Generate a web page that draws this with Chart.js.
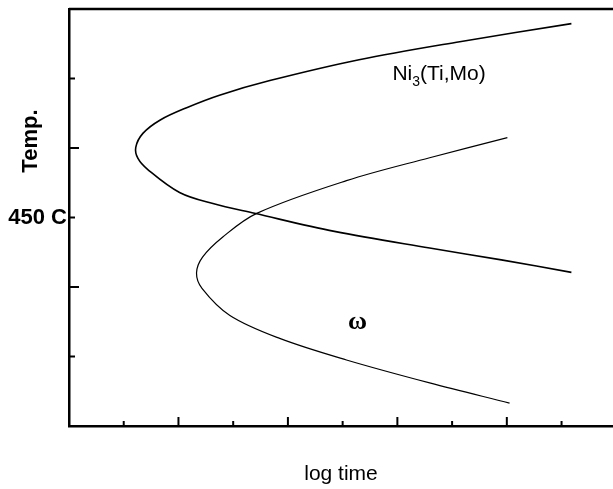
<!DOCTYPE html>
<html>
<head>
<meta charset="utf-8">
<script src="https://cdn.jsdelivr.net/npm/chart.js@4/dist/chart.umd.min.js"></script>
<style>
  html, body { margin: 0; padding: 0; background: #fff; }
  #wrap { width: 613px; height: 489px; }
</style>
</head>
<body>
<div id="wrap"><canvas id="c"></canvas></div>
<script>
// Ni3(Ti,Mo) C-curve, from upper branch end round the nose to lower branch end
const ni3X = [9.18, 7.14, 5.30, 3.67, 2.75, 2.15, 1.66, 1.35, 1.22, 1.26, 1.44, 2.02, 2.63, 3.39, 4.85, 6.59, 7.90, 9.18];
const ni3Y = [5.79, 5.53, 5.27, 4.97, 4.76, 4.58, 4.40, 4.21, 4.01, 3.85, 3.69, 3.36, 3.20, 3.06, 2.80, 2.56, 2.39, 2.21];

// omega C-curve
const omegaX = [8.01, 6.59, 5.07, 3.43, 2.81, 2.44, 2.33, 2.43, 2.94, 3.85, 5.07, 6.59, 8.05];
const omegaY = [4.15, 3.86, 3.53, 3.06, 2.72, 2.43, 2.20, 1.98, 1.59, 1.26, 0.95, 0.62, 0.33];

// axis ticks (no numbers on the time axis)
const xTicks = [1, 2, 3, 4, 5, 6, 7, 8, 9];
const xMajor = [2, 4, 6, 8];
const yTicks = [1, 2, 3, 4, 5];
const yMajor = [2, 4];
const yLabelValues = [3];
const yLabelTexts = ['450 C'];

const toPts = (xs, ys) => xs.map((x, i) => ({ x: x, y: ys[i] }));

// ticks drawn inward + top frame line + text labels
const extras = {
  id: 'extras',
  afterDraw(chart) {
    const c = chart.ctx, a = chart.chartArea;
    const xs = chart.scales.x, ys = chart.scales.y;
    c.save();
    c.strokeStyle = '#000';
    c.lineWidth = 2;
    xTicks.forEach(v => {
      const px = xs.getPixelForValue(v);
      const len = xMajor.includes(v) ? 9 : 5;
      c.beginPath(); c.moveTo(px, a.bottom); c.lineTo(px, a.bottom - len); c.stroke();
    });
    yTicks.forEach(v => {
      const py = ys.getPixelForValue(v);
      const len = yMajor.includes(v) ? 10 : 6;
      c.beginPath(); c.moveTo(a.left, py); c.lineTo(a.left + len, py); c.stroke();
    });
    // top frame
    c.lineWidth = 2.5;
    c.beginPath(); c.moveTo(a.left, a.top); c.lineTo(a.right, a.top); c.stroke();

    // y title
    c.fillStyle = '#000';
    c.font = 'bold 22px "Liberation Sans", Arial, sans-serif';
    c.textAlign = 'center';
    c.textBaseline = 'middle';
    c.translate(31, ys.getPixelForValue(4.1));
    c.rotate(-Math.PI / 2);
    c.fillText('Temp.', 0, 0);
    c.setTransform(1, 0, 0, 1, 0, 0);

    // phase labels
    c.textAlign = 'left';
    c.textBaseline = 'alphabetic';
    c.font = '21px "Liberation Sans", Arial, sans-serif';
    let lx = xs.getPixelForValue(5.91), ly = ys.getPixelForValue(4.98);
    c.fillText('Ni', lx, ly);
    lx += c.measureText('Ni').width;
    c.font = '14px "Liberation Sans", Arial, sans-serif';
    c.fillText('3', lx, ly + 6);
    lx += c.measureText('3').width;
    c.font = '21px "Liberation Sans", Arial, sans-serif';
    c.fillText('(Ti,Mo)', lx, ly);

    c.textAlign = 'center';
    c.textBaseline = 'middle';
    c.font = 'bold 26px "Liberation Serif", "Times New Roman", serif';
    c.fillText('\u03c9', xs.getPixelForValue(5.27), ys.getPixelForValue(1.49));
    c.restore();
  }
};

new Chart(document.getElementById('c').getContext('2d'), {
  type: 'scatter',
  data: {
    datasets: [{
      label: 'Ni3(Ti,Mo)',
      data: toPts(ni3X, ni3Y),
      showLine: true,
      borderColor: '#000',
      borderWidth: 1.6,
      pointRadius: 0,
      tension: 0.35
    }, {
      label: 'omega',
      data: toPts(omegaX, omegaY),
      showLine: true,
      borderColor: '#000',
      borderWidth: 1.2,
      pointRadius: 0,
      tension: 0.35
    }]
  },
  options: {
    responsive: true,
    maintainAspectRatio: false,
    animation: false,
    layout: { padding: { top: 9, right: 0, left: 0, bottom: 0 } },
    plugins: {
      legend: { display: false },
      tooltip: { enabled: false }
    },
    scales: {
      x: {
        type: 'linear',
        min: 0,
        max: 9.94,
        grid: { display: false, drawTicks: false },
        border: { display: true, color: '#000', width: 2.5 },
        ticks: { display: false },
        title: {
          display: true,
          text: 'log time',
          color: '#000',
          font: { family: '"Liberation Sans", Arial, sans-serif', size: 21 },
          padding: { top: 0, bottom: 2 }
        },
        afterFit(s) { s.height = 63; s.paddingLeft = 0; s.paddingRight = 0; }
      },
      y: {
        type: 'linear',
        min: 0,
        max: 6,
        grid: { display: false, drawTicks: false },
        border: { display: true, color: '#000', width: 2.5 },
        afterBuildTicks(s) { s.ticks = yLabelValues.map(v => ({ value: v })); },
        ticks: {
          padding: 2,
          color: '#000',
          font: { family: '"Liberation Sans", Arial, sans-serif', size: 22, weight: 'bold' },
          callback: v => yLabelTexts[yLabelValues.indexOf(v)] || ''
        },
        afterFit(s) { s.width = 69; s.paddingTop = 0; s.paddingBottom = 0; }
      }
    }
  },
  plugins: [extras]
});
</script>
</body>
</html>
